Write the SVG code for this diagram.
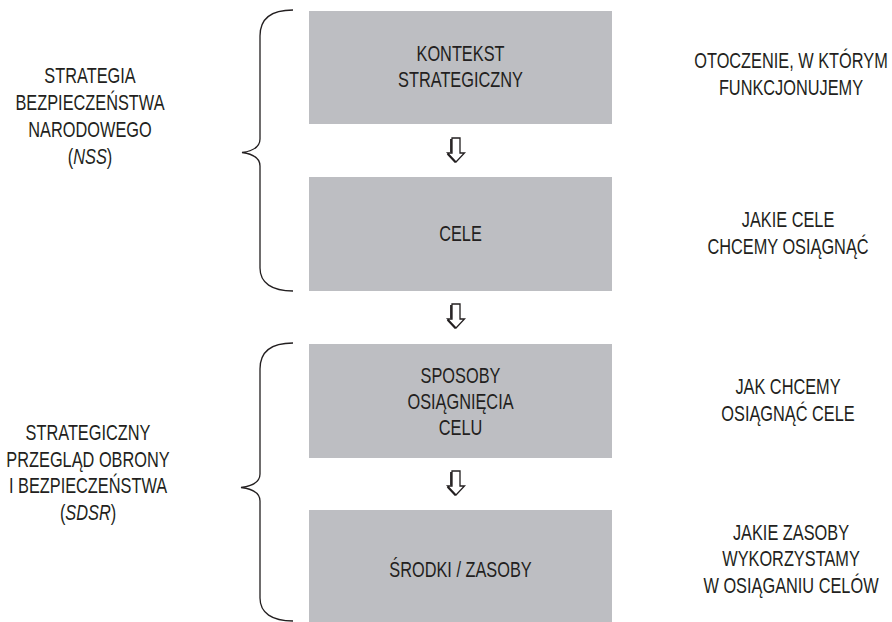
<svg xmlns="http://www.w3.org/2000/svg" width="892" height="622" viewBox="0 0 892 622">
<style>
.box{fill:#bdbec2}
.t{font-family:"Liberation Sans",Arial,sans-serif;font-size:21.5px;fill:#231f20;text-anchor:middle}
.br{fill:none;stroke:#231f20;stroke-width:1.3}
.ar{fill:#fff;stroke:#231f20;stroke-width:1.3;stroke-linejoin:miter}
.sh{fill:none;stroke:#231f20;stroke-width:1.8}
</style>
<defs>
<g id="arrow">
<path class="ar" d="M-4,0 L4,0 L4,15 L8.5,15 L0,24 L-8.5,15 L-4,15 Z"/>
<path class="sh" d="M-5,1 L-5,14.5 M-8.5,16 L-0.5,24.5"/>
</g>
</defs>
<rect width="892" height="622" fill="#fff"/>
<g id="node-kontekst"><rect class="box" x="309" y="11" width="303" height="113"/>
<g transform="translate(460.5 0) scale(0.76 1)"><text class="t" x="0" y="61">KONTEKST</text><text class="t" x="0" y="87">STRATEGICZNY</text></g></g>
<g id="node-cele"><rect class="box" x="309" y="177" width="303" height="114"/>
<g transform="translate(460.5 0) scale(0.76 1)"><text class="t" x="0" y="241">CELE</text></g></g>
<g id="node-sposoby"><rect class="box" x="309" y="344" width="303" height="114"/>
<g transform="translate(460.5 0) scale(0.76 1)"><text class="t" x="0" y="383">SPOSOBY</text><text class="t" x="0" y="409">OSIĄGNIĘCIA</text><text class="t" x="0" y="435">CELU</text></g></g>
<g id="node-srodki"><rect class="box" x="309" y="510" width="303" height="112"/>
<g transform="translate(460.5 0) scale(0.76 1)"><text class="t" x="0" y="577">ŚRODKI / ZASOBY</text></g></g>
<g id="label-nss" transform="translate(90 0) scale(0.76 1)">
<text class="t" x="0" y="83">STRATEGIA</text><text class="t" x="0" y="110">BEZPIECZEŃSTWA</text><text class="t" x="0" y="137">NARODOWEGO</text><text class="t" x="0" y="164">(<tspan font-style="italic">NSS</tspan>)</text></g>
<g id="label-sdsr" transform="translate(88 0) scale(0.76 1)">
<text class="t" x="0" y="440">STRATEGICZNY</text><text class="t" x="0" y="467">PRZEGLĄD OBRONY</text><text class="t" x="0" y="493">I BEZPIECZEŃSTWA</text><text class="t" x="0" y="520">(<tspan font-style="italic">SDSR</tspan>)</text></g>
<g id="label-r1" transform="translate(791 0) scale(0.76 1)"><text class="t" x="0" y="68">OTOCZENIE, W KTÓRYM</text><text class="t" x="0" y="95">FUNKCJONUJEMY</text></g>
<g id="label-r2" transform="translate(788 0) scale(0.76 1)"><text class="t" x="0" y="227">JAKIE CELE</text><text class="t" x="0" y="254">CHCEMY OSIĄGNĄĆ</text></g>
<g id="label-r3" transform="translate(788 0) scale(0.76 1)"><text class="t" x="0" y="394">JAK CHCEMY</text><text class="t" x="0" y="421">OSIĄGNĄĆ CELE</text></g>
<g id="label-r4" transform="translate(791 0) scale(0.76 1)"><text class="t" x="0" y="540">JAKIE ZASOBY</text><text class="t" x="0" y="566">WYKORZYSTAMY</text><text class="t" x="0" y="593">W OSIĄGANIU CELÓW</text></g>
<g id="connectors">
<path class="br" d="M293,10 C272,10 260,18 260,36 L260,139 C260,147 253,151 242,152.5 C253,154 260,158 260,166 L260,268 C260,283 272,291 293,291"/>
<path class="br" d="M293,343 C272,343 260,351 260,369 L260,474 C260,482 253,486 241,487.5 C253,489 260,493 260,501 L260,598 C260,613 272,621 293,621"/>
<use href="#arrow" x="456" y="138"/>
<use href="#arrow" x="456" y="304"/>
<use href="#arrow" x="456" y="471"/>
</g>
</svg>
